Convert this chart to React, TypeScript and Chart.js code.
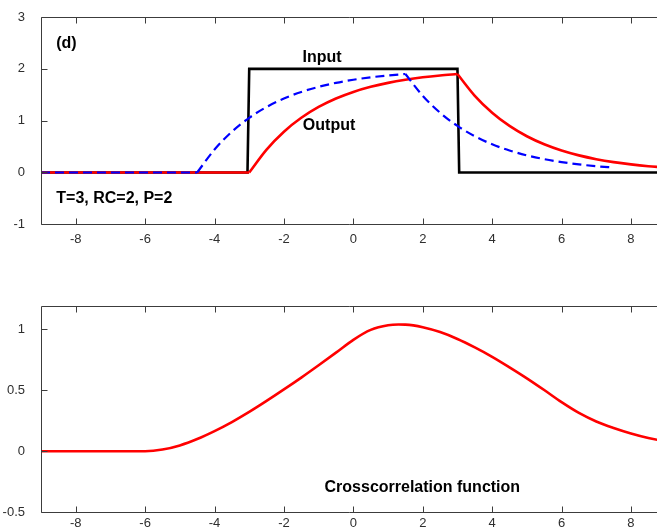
import React, { useEffect, useRef } from 'react';
import { Chart, registerables } from 'chart.js';

Chart.register(...registerables);

// ---------- data ----------
const xTicks = [-8, -6, -4, -2, 0, 2, 4, 6, 8];
const topYTicks = [-1, 0, 1, 2, 3];
const bottomYTicks = [-0.5, 0, 0.5, 1];

const inputX = [-9, -3.05, -3, 3, 3.05, 9];
const inputY = [0, 0, 2, 2, 0, 0];

const outputBaseX = [-9, -3];
const outputBaseY = [0, 0];
const outputRiseX = [-3, -2.5, -2, -1.5, -1, -0.5, 0, 0.5, 1, 1.5, 2, 2.5, 3];
const outputRiseY = [0, 0.442, 0.787, 1.055, 1.264, 1.427, 1.554, 1.652, 1.729, 1.789, 1.836, 1.872, 1.9];
const outputDecayX = [3, 3.5, 4, 4.5, 5, 5.5, 6, 6.5, 7, 7.5, 8, 8.5, 9];
const outputDecayY = [1.9, 1.48, 1.153, 0.898, 0.699, 0.544, 0.424, 0.33, 0.257, 0.2, 0.156, 0.121, 0.095];

const shiftedBaseX = [-9, -4.5];
const shiftedBaseY = [0, 0];
const shiftedRiseX = [-4.5, -4, -3.5, -3, -2.5, -2, -1.5, -1, -0.5, 0, 0.5, 1, 1.5];
const shiftedRiseY = [0, 0.442, 0.787, 1.055, 1.264, 1.427, 1.554, 1.652, 1.729, 1.789, 1.836, 1.872, 1.9];
const shiftedDecayX = [1.5, 2, 2.5, 3, 3.5, 4, 4.5, 5, 5.5, 6, 6.5, 7, 7.5];
const shiftedDecayY = [1.9, 1.48, 1.153, 0.898, 0.699, 0.544, 0.424, 0.33, 0.257, 0.2, 0.156, 0.121, 0.095];

const xcorrX = [-9, -6, -5.5, -5, -4.5, -4, -3.5, -3, -2.5, -2, -1.5, -1, -0.5, 0, 0.5, 1, 1.3, 1.5, 2, 2.5, 3, 3.5, 4, 4.5, 5, 5.5, 6, 6.5, 7, 7.5, 8, 8.5, 9];
const xcorrY = [0, 0, 0.013, 0.047, 0.099, 0.164, 0.238, 0.321, 0.411, 0.505, 0.602, 0.703, 0.806, 0.911, 0.992, 1.03, 1.036, 1.035, 1.014, 0.974, 0.918, 0.849, 0.772, 0.686, 0.596, 0.5, 0.401, 0.313, 0.243, 0.19, 0.145, 0.108, 0.08];

const topLabels = ['(d)', 'Input', 'Output', 'T=3, RC=2, P=2'];
const bottomLabels = ['Crosscorrelation function'];

// ---------- styles ----------
const FONT = '"Liberation Sans", Arial, Helvetica, sans-serif';
const AXIS = '#3c3c3c';
const TICK_TEXT = '#2e2e2e';
const W = 657;
const TOP_H = 262;
const BOT_H = 267;

const topLabelPos = [
  { x: -8.56, y: 2.48, align: 'left' },
  { x: -0.9, y: 2.21, align: 'center' },
  { x: -0.7, y: 0.9, align: 'center' },
  { x: -8.56, y: -0.51, align: 'left' },
];
const bottomLabelPos = [{ x: -0.83, y: -0.295, align: 'left' }];

function pts(xs: number[], ys: number[]) {
  return xs.map((x, i) => ({ x, y: ys[i] }));
}

function line(data: any[], color: string, width: number, dash: number[] = [], smooth = true) {
  return {
    data,
    borderColor: color,
    backgroundColor: color,
    borderWidth: width,
    borderDash: dash,
    pointRadius: 0,
    fill: false,
    tension: 0,
    cubicInterpolationMode: smooth ? 'monotone' : 'default',
    borderCapStyle: 'butt',
    borderJoinStyle: 'miter',
  };
}

function boxPlugin(texts: string[], pos: any[]) {
  return {
    id: 'boxAndText',
    afterDraw(chart: any) {
      const { ctx, chartArea: a, scales } = chart;
      const xs = scales.x;
      const ys = scales.y;
      ctx.save();
      ctx.strokeStyle = AXIS;
      ctx.lineWidth = 1;
      ctx.beginPath();
      const L = Math.round(a.left) + 0.5;
      const T = Math.round(a.top) + 0.5;
      const B = Math.round(a.bottom) + 0.5;
      ctx.moveTo(L, T);
      ctx.lineTo(a.right, T);
      ctx.moveTo(L, T);
      ctx.lineTo(L, B);
      ctx.lineTo(a.right, B);
      xTicks.forEach((v) => {
        const px = Math.round(xs.getPixelForValue(v)) + 0.5;
        ctx.moveTo(px, T);
        ctx.lineTo(px, T + 6);
        ctx.moveTo(px, B);
        ctx.lineTo(px, B - 6);
      });
      (ys.ticks || []).forEach((t: any) => {
        const py = Math.round(ys.getPixelForValue(t.value)) + 0.5;
        ctx.moveTo(L, py);
        ctx.lineTo(L + 6, py);
      });
      ctx.stroke();
      ctx.fillStyle = '#000';
      ctx.font = `bold 16px ${FONT}`;
      ctx.textBaseline = 'middle';
      texts.forEach((t, i) => {
        const p = pos[i];
        ctx.textAlign = p.align;
        ctx.fillText(t, xs.getPixelForValue(p.x), ys.getPixelForValue(p.y));
      });
      ctx.restore();
    },
  };
}

function scalesFor(yMin: number, yMax: number, yTicks: number[], xHeight: number, xPad: number) {
  const tickFont = { family: FONT, size: 13 };
  return {
    x: {
      type: 'linear',
      min: -9,
      max: 8.75,
      afterBuildTicks: (s: any) => {
        s.ticks = xTicks.map((v) => ({ value: v }));
      },
      afterFit: (s: any) => {
        s.height = xHeight;
      },
      grid: { display: false },
      border: { display: false },
      ticks: {
        font: tickFont,
        color: TICK_TEXT,
        padding: xPad,
        maxRotation: 0,
        autoSkip: false,
        callback: (v: any) => String(v),
      },
    },
    y: {
      type: 'linear',
      min: yMin,
      max: yMax,
      afterBuildTicks: (s: any) => {
        s.ticks = yTicks.map((v) => ({ value: v }));
      },
      afterFit: (s: any) => {
        s.width = 41;
      },
      grid: { display: false },
      border: { display: false },
      ticks: {
        font: tickFont,
        color: TICK_TEXT,
        padding: 8,
        autoSkip: false,
        callback: (v: any) => String(v),
      },
    },
  };
}

export default function App() {
  const topRef = useRef<HTMLCanvasElement | null>(null);
  const botRef = useRef<HTMLCanvasElement | null>(null);

  useEffect(() => {
    const blue = '#0000ff';
    const red = '#ff0000';
    const dash = [9, 5];
    const top = new Chart(topRef.current as HTMLCanvasElement, {
      type: 'line',
      data: {
        datasets: [
          line(pts(shiftedBaseX, shiftedBaseY), blue, 2.2, dash, false),
          line(pts(shiftedRiseX, shiftedRiseY), blue, 2.2, dash),
          line(pts(shiftedDecayX, shiftedDecayY), blue, 2.2, dash),
          line(pts(outputBaseX, outputBaseY), red, 2.6, [], false),
          line(pts(outputRiseX, outputRiseY), red, 2.6),
          line(pts(outputDecayX, outputDecayY), red, 2.6),
          line(pts(inputX, inputY), '#000000', 2.6, [], false),
        ] as any,
      },
      options: {
        animation: false,
        responsive: false,
        devicePixelRatio: 1,
        layout: { padding: { top: 17, left: 0, right: 0, bottom: 0 } },
        plugins: { legend: { display: false }, tooltip: { enabled: false } },
        scales: scalesFor(-1, 3, topYTicks, TOP_H - 224.3, -1) as any,
      },
      plugins: [boxPlugin(topLabels, topLabelPos)],
    });
    const bot = new Chart(botRef.current as HTMLCanvasElement, {
      type: 'line',
      data: {
        datasets: [line(pts(xcorrX, xcorrY), red, 2.6)] as any,
      },
      options: {
        animation: false,
        responsive: false,
        devicePixelRatio: 1,
        layout: { padding: { top: 43.7, left: 0, right: 0, bottom: 0 } },
        plugins: { legend: { display: false }, tooltip: { enabled: false } },
        scales: scalesFor(-0.5, 1.19, bottomYTicks, BOT_H - 250.3, -5) as any,
      },
      plugins: [boxPlugin(bottomLabels, bottomLabelPos)],
    });
    return () => {
      top.destroy();
      bot.destroy();
    };
  }, []);

  return (
    <div style={{ position: 'absolute', left: 0, top: 0, width: W, height: TOP_H + BOT_H, background: '#fff' }}>
      <canvas ref={topRef} width={W} height={TOP_H} style={{ position: 'absolute', left: 0, top: 0, width: W, height: TOP_H }} />
      <canvas ref={botRef} width={W} height={BOT_H} style={{ position: 'absolute', left: 0, top: TOP_H, width: W, height: BOT_H }} />
    </div>
  );
}
